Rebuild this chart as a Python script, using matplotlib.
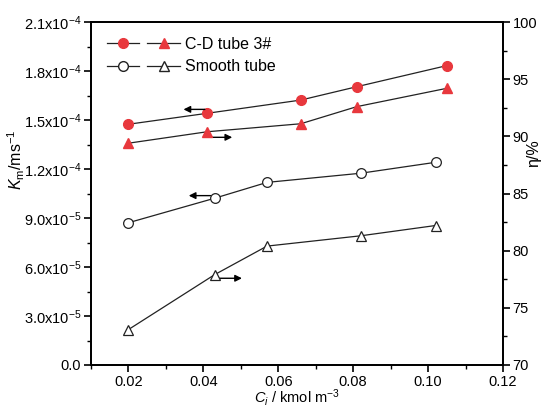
import matplotlib
matplotlib.use("Agg")
import matplotlib.pyplot as plt
from matplotlib.lines import Line2D
from matplotlib.legend_handler import HandlerTuple
from matplotlib.ticker import MultipleLocator, FixedLocator

plt.rcParams['font.family'] = ['Liberation Sans', 'DejaVu Sans']
plt.rcParams['mathtext.fontset'] = 'custom'
plt.rcParams['mathtext.rm'] = 'Liberation Sans'
plt.rcParams['mathtext.it'] = 'Liberation Sans:italic'

# Data
cd_km_x = [0.020, 0.041, 0.066, 0.081, 0.105]
cd_km = [1.474e-4, 1.541e-4, 1.622e-4, 1.704e-4, 1.833e-4]
cd_eta_x = [0.020, 0.041, 0.066, 0.081, 0.105]
cd_eta = [89.4, 90.4, 91.1, 92.6, 94.2]
sm_km_x = [0.020, 0.043, 0.057, 0.082, 0.102]
sm_km = [0.871e-4, 1.021e-4, 1.118e-4, 1.174e-4, 1.241e-4]
sm_eta_x = [0.020, 0.043, 0.057, 0.082, 0.102]
sm_eta = [73.1, 77.9, 80.4, 81.3, 82.2]

# indicator arrows (start x, end x, y on left axis)
arrows = [(0.0404, 0.0347, 1.565e-4), (0.0419, 0.0477, 1.394e-4),
          (0.0419, 0.0361, 1.037e-4), (0.0440, 0.0503, 0.531e-4)]

left_ticks = [0, 3e-5, 6e-5, 9e-5, 1.2e-4, 1.5e-4, 1.8e-4, 2.1e-4]
left_labels = ['0.0', '3.0x10$^{-5}$', '6.0x10$^{-5}$', '9.0x10$^{-5}$',
               '1.2x10$^{-4}$', '1.5x10$^{-4}$', '1.8x10$^{-4}$', '2.1x10$^{-4}$']
x_ticks = [0.02, 0.04, 0.06, 0.08, 0.10, 0.12]
x_labels = ['0.02', '0.04', '0.06', '0.08', '0.10', '0.12']
right_ticks = [70, 75, 80, 85, 90, 95, 100]

red = '#E8383D'
fs = 10.5

fig = plt.figure(figsize=(5.41, 4.07), dpi=100)
ax = fig.add_axes([91/541, 42/407, (503-91)/541, (365-22)/407])
ax2 = ax.twinx()

ax.plot(cd_km_x, cd_km, '-', color='#222222', lw=0.9, marker='o', ms=7,
        mfc=red, mec=red, zorder=3)
ax.plot(sm_km_x, sm_km, '-', color='#222222', lw=0.9, marker='o', ms=7,
        mfc='white', mec='#222222', mew=0.9, zorder=3)
ax2.plot(cd_eta_x, cd_eta, '-', color='#222222', lw=0.9, marker='^', ms=7.5,
         mfc=red, mec=red, zorder=3)
ax2.plot(sm_eta_x, sm_eta, '-', color='#222222', lw=0.9, marker='^', ms=7.5,
         mfc='white', mec='#222222', mew=0.9, zorder=3)

for x0, x1, y in arrows:
    ax.annotate('', xy=(x1, y), xytext=(x0, y),
                arrowprops=dict(arrowstyle='-|>', color='black', lw=1,
                                mutation_scale=10, shrinkA=0, shrinkB=0))

ax.set_xlim(0.01, 0.12)
ax.set_ylim(0, 2.1e-4)
ax2.set_ylim(70, 100)

ax.xaxis.set_major_locator(FixedLocator(x_ticks))
ax.set_xticklabels(x_labels, fontsize=fs)
ax.xaxis.set_minor_locator(MultipleLocator(0.01))
ax.yaxis.set_major_locator(FixedLocator(left_ticks))
ax.set_yticklabels(left_labels, fontsize=fs)
ax.yaxis.set_minor_locator(MultipleLocator(1.5e-5))
ax2.yaxis.set_major_locator(FixedLocator(right_ticks))
ax2.set_yticklabels([str(t) for t in right_ticks], fontsize=fs)
ax2.yaxis.set_minor_locator(MultipleLocator(2.5))

for a in (ax, ax2):
    a.tick_params(which='major', direction='out', length=5, width=1.2, pad=2)
    a.tick_params(which='minor', direction='out', length=3, width=1.0)
    for s in a.spines.values():
        s.set_linewidth(1.3)

ax.set_xlabel('$C_i$ / kmol m$^{-3}$', fontsize=10.5, labelpad=-1.0)
ax.set_ylabel('$K_{\\rm m}$/ms$^{-1}$', fontsize=11.5)
ax.yaxis.set_label_coords(-0.155, (365-160)/343)
ax2.set_ylabel('η/%', fontsize=11.5, rotation=90)
ax2.yaxis.set_label_coords(1.056, (365-153)/343)

h1 = Line2D([], [], color='#222222', lw=0.9, marker='o', ms=7, mfc=red, mec=red)
h2 = Line2D([], [], color='#222222', lw=0.9, marker='^', ms=7.5, mfc=red, mec=red)
h3 = Line2D([], [], color='#222222', lw=0.9, marker='o', ms=7, mfc='white', mec='#222222')
h4 = Line2D([], [], color='#222222', lw=0.9, marker='^', ms=7.5, mfc='white', mec='#222222')
ax.legend([(h1, h2), (h3, h4)], ['C-D tube 3#', 'Smooth tube'],
          handler_map={tuple: HandlerTuple(ndivide=None, pad=0.5)},
          loc='upper left', frameon=False, fontsize=11.5, handlelength=4.6,
          handletextpad=0.3, labelspacing=0.45, borderaxespad=0, borderpad=0,
          bbox_to_anchor=(0.038, (365-37)/343))

fig.savefig('out.png', dpi=100)
